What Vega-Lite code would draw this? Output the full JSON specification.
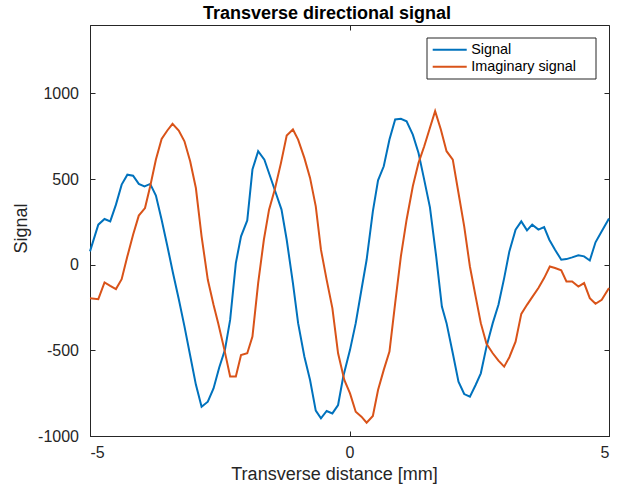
{
  "$schema": "https://vega.github.io/schema/vega-lite/v6.json",
  "width": 519,
  "height": 411,
  "autosize": "none",
  "padding": {"left": 90, "top": 25, "right": 17, "bottom": 53},
  "background": "white",
  "title": {"text": "Transverse directional signal", "fontSize": 18, "fontWeight": "bold", "font": "Liberation Sans", "color": "black", "offset": 2, "dx": -22.5},
  "config": {
    "view": {"stroke": "#262626", "strokeWidth": 1},
    "axis": {"domainColor": "#262626", "tickColor": "#262626", "tickSize": -5, "grid": false, "labelFont": "Liberation Sans", "labelFontSize": 16, "labelColor": "#262626", "titleFont": "Liberation Sans", "titleFontSize": 18, "titleFontWeight": "normal", "titleColor": "#262626", "labelExpr": "'' + datum.value"}
  },
  "datasets": {
    "sig": [
      {"x":-5.00,"y":78},{"x":-4.84,"y":234},{"x":-4.72,"y":267},{"x":-4.61,"y":253},{"x":-4.50,"y":351},{"x":-4.39,"y":468},{"x":-4.28,"y":526},{"x":-4.17,"y":520},{"x":-4.06,"y":472},{"x":-3.95,"y":458},{"x":-3.84,"y":472},{"x":-3.73,"y":404},{"x":-3.62,"y":263},{"x":-3.51,"y":110},{"x":-3.40,"y":-50},{"x":-3.29,"y":-200},{"x":-3.18,"y":-360},{"x":-3.07,"y":-530},{"x":-2.96,"y":-700},{"x":-2.85,"y":-829},{"x":-2.73,"y":-800},{"x":-2.62,"y":-722},{"x":-2.51,"y":-600},{"x":-2.40,"y":-497},{"x":-2.30,"y":-322},{"x":-2.19,"y":10},{"x":-2.09,"y":166},{"x":-1.97,"y":259},{"x":-1.87,"y":556},{"x":-1.76,"y":663},{"x":-1.64,"y":614},{"x":-1.53,"y":517},{"x":-1.42,"y":419},{"x":-1.31,"y":322},{"x":-1.21,"y":146},{"x":-1.09,"y":-107},{"x":-0.99,"y":-341},{"x":-0.87,"y":-536},{"x":-0.76,"y":-673},{"x":-0.65,"y":-852},{"x":-0.55,"y":-897},{"x":-0.44,"y":-854},{"x":-0.33,"y":-868},{"x":-0.22,"y":-819},{"x":-0.12,"y":-653},{"x":0.01,"y":-497},{"x":0.12,"y":-341},{"x":0.23,"y":-146},{"x":0.33,"y":29},{"x":0.45,"y":312},{"x":0.55,"y":493},{"x":0.66,"y":575},{"x":0.77,"y":731},{"x":0.88,"y":848},{"x":0.99,"y":852},{"x":1.10,"y":838},{"x":1.22,"y":760},{"x":1.33,"y":653},{"x":1.43,"y":510},{"x":1.55,"y":335},{"x":1.67,"y":49},{"x":1.78,"y":-244},{"x":1.87,"y":-341},{"x":1.99,"y":-517},{"x":2.10,"y":-683},{"x":2.21,"y":-755},{"x":2.32,"y":-770},{"x":2.43,"y":-702},{"x":2.53,"y":-634},{"x":2.64,"y":-478},{"x":2.76,"y":-341},{"x":2.87,"y":-234},{"x":2.98,"y":-78},{"x":3.08,"y":78},{"x":3.20,"y":205},{"x":3.31,"y":253},{"x":3.42,"y":201},{"x":3.52,"y":234},{"x":3.64,"y":205},{"x":3.75,"y":220},{"x":3.85,"y":146},{"x":3.96,"y":88},{"x":4.08,"y":29},{"x":4.18,"y":33},{"x":4.29,"y":43},{"x":4.41,"y":55},{"x":4.52,"y":49},{"x":4.63,"y":25},{"x":4.74,"y":131},{"x":4.86,"y":195},{"x":5.00,"y":270}
    ],
    "imag": [
      {"x":-5.00,"y":-195},{"x":-4.84,"y":-201},{"x":-4.72,"y":-103},{"x":-4.61,"y":-123},{"x":-4.50,"y":-142},{"x":-4.39,"y":-84},{"x":-4.28,"y":49},{"x":-4.17,"y":175},{"x":-4.06,"y":287},{"x":-3.94,"y":331},{"x":-3.84,"y":458},{"x":-3.73,"y":614},{"x":-3.62,"y":735},{"x":-3.51,"y":784},{"x":-3.41,"y":823},{"x":-3.29,"y":784},{"x":-3.18,"y":721},{"x":-3.07,"y":604},{"x":-2.96,"y":448},{"x":-2.85,"y":166},{"x":-2.73,"y":-88},{"x":-2.62,"y":-234},{"x":-2.53,"y":-341},{"x":-2.41,"y":-497},{"x":-2.30,"y":-653},{"x":-2.19,"y":-653},{"x":-2.09,"y":-527},{"x":-1.97,"y":-517},{"x":-1.87,"y":-419},{"x":-1.76,"y":-107},{"x":-1.65,"y":146},{"x":-1.55,"y":322},{"x":-1.44,"y":439},{"x":-1.32,"y":595},{"x":-1.21,"y":755},{"x":-1.09,"y":790},{"x":-0.99,"y":731},{"x":-0.87,"y":624},{"x":-0.76,"y":507},{"x":-0.65,"y":341},{"x":-0.55,"y":88},{"x":-0.44,"y":-88},{"x":-0.33,"y":-253},{"x":-0.22,"y":-517},{"x":-0.10,"y":-673},{"x":0.01,"y":-751},{"x":0.12,"y":-858},{"x":0.23,"y":-887},{"x":0.33,"y":-922},{"x":0.45,"y":-883},{"x":0.55,"y":-731},{"x":0.66,"y":-614},{"x":0.77,"y":-507},{"x":0.88,"y":-224},{"x":0.99,"y":49},{"x":1.10,"y":263},{"x":1.22,"y":458},{"x":1.33,"y":595},{"x":1.44,"y":692},{"x":1.55,"y":800},{"x":1.65,"y":897},{"x":1.76,"y":790},{"x":1.87,"y":663},{"x":1.99,"y":614},{"x":2.10,"y":419},{"x":2.21,"y":224},{"x":2.32,"y":-10},{"x":2.43,"y":-185},{"x":2.53,"y":-341},{"x":2.64,"y":-462},{"x":2.76,"y":-517},{"x":2.87,"y":-560},{"x":2.98,"y":-595},{"x":3.08,"y":-540},{"x":3.20,"y":-449},{"x":3.31,"y":-287},{"x":3.42,"y":-234},{"x":3.52,"y":-189},{"x":3.64,"y":-136},{"x":3.75,"y":-78},{"x":3.86,"y":-10},{"x":3.96,"y":-19},{"x":4.08,"y":-33},{"x":4.18,"y":-98},{"x":4.29,"y":-98},{"x":4.41,"y":-127},{"x":4.52,"y":-107},{"x":4.63,"y":-195},{"x":4.74,"y":-228},{"x":4.86,"y":-205},{"x":5.00,"y":-136}
    ]
  },
  "layer": [
    {
      "data": {"name": "sig"},
      "transform": [{"calculate": "'Signal'", "as": "s"}],
      "mark": {"type": "line", "strokeWidth": 2},
      "encoding": {
        "x": {"field": "x", "type": "quantitative", "scale": {"domain": [-5, 5], "nice": false, "zero": false}, "axis": {"values": [-5, 0, 5], "title": "Transverse distance [mm]", "labelPadding": 13, "titleX": 244, "titleY": 43.7, "titleBaseline": "alphabetic", "titleAlign": "center"}},
        "y": {"field": "y", "type": "quantitative", "scale": {"domain": [-1000, 1400], "nice": false, "zero": false}, "axis": {"values": [-1000, -500, 0, 500, 1000], "title": "Signal", "labelPadding": 16.5, "titleX": -64, "titleY": 203, "titleBaseline": "alphabetic", "titleAlign": "center", "titleAngle": -90}},
        "color": {"field": "s", "type": "nominal", "scale": {"domain": ["Signal", "Imaginary signal"], "range": ["#0072BD", "#D95319"]},
          "legend": {"title": "\u00a0", "titleOrient": "right", "titlePadding": 15, "titleFontSize": 14.4, "titleFont": "Liberation Sans", "orient": "none", "legendX": 336.5, "legendY": 12.5, "strokeColor": "#262626", "fillColor": "white", "padding": 5, "symbolType": "M-1,0H4.67", "symbolSize": 144, "symbolStrokeWidth": 2, "labelFont": "Liberation Sans", "labelFontSize": 14.4, "labelColor": "black", "labelOffset": 25.3, "rowPadding": 2}}
      }
    },
    {
      "data": {"name": "imag"},
      "transform": [{"calculate": "'Imaginary signal'", "as": "s"}],
      "mark": {"type": "line", "strokeWidth": 2},
      "encoding": {
        "x": {"field": "x", "type": "quantitative", "axis": {"orient": "top", "values": [-5, 0, 5], "labels": false, "title": null, "domain": false}},
        "y": {"field": "y", "type": "quantitative", "axis": {"orient": "right", "values": [-1000, -500, 0, 500, 1000], "labels": false, "title": null, "domain": false}},
        "color": {"field": "s", "type": "nominal"}
      }
    }
  ],
  "resolve": {"axis": {"x": "independent", "y": "independent"}}
}
